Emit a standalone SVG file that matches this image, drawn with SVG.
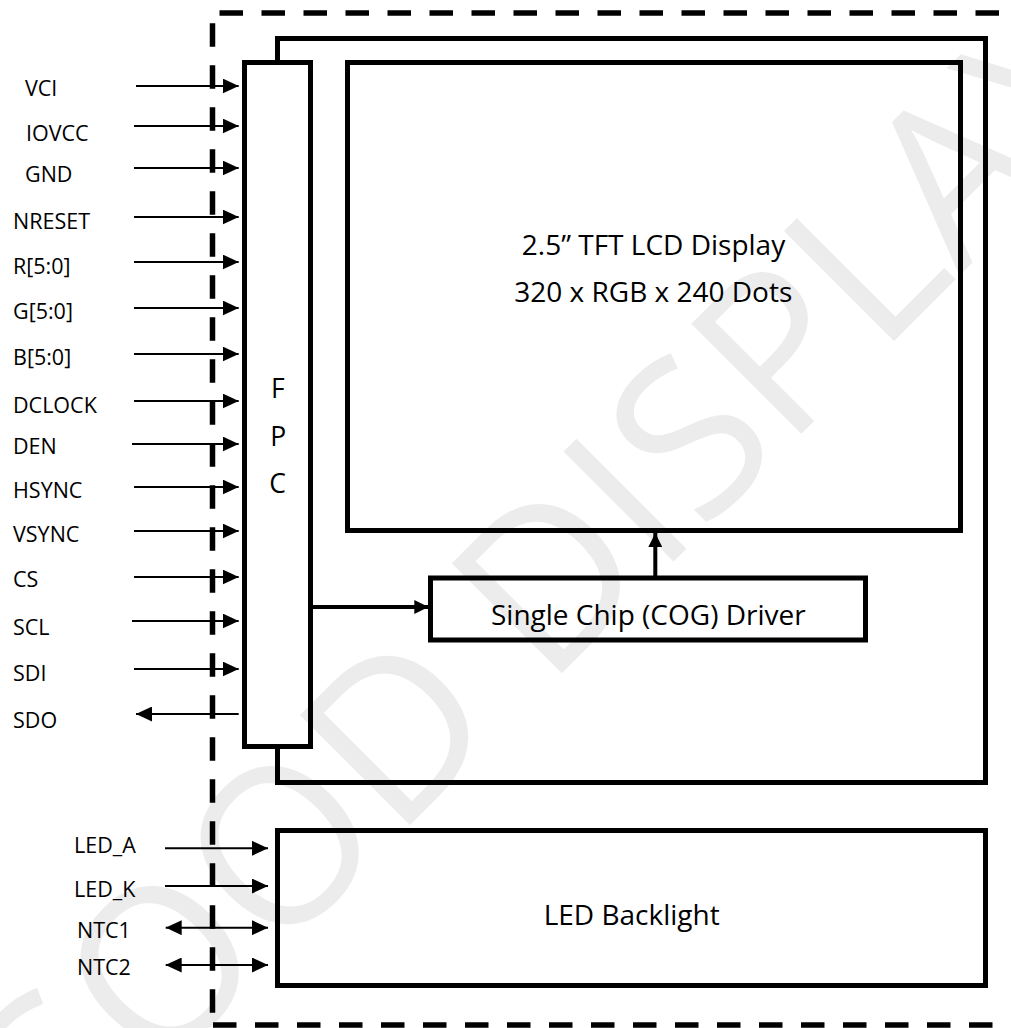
<svg xmlns="http://www.w3.org/2000/svg" width="1011" height="1028" viewBox="0 0 1011 1028">
<style>
.lbl{font-family:"Open Sans","Noto Sans","Liberation Sans",sans-serif;font-size:21.5px;fill:#000}
.big{font-family:"Open Sans","Noto Sans","Liberation Sans",sans-serif;font-size:28px;fill:#000;text-anchor:middle}
.box{fill:none;stroke:#000;stroke-width:5}
.dash{fill:none;stroke:#000;stroke-width:5.5;stroke-dasharray:23.5 18.5}
.sig{stroke:#000;stroke-width:2;fill:none}
.thick{stroke:#000;stroke-width:4;fill:none}
.wm{font-family:"Open Sans","Noto Sans",sans-serif;font-size:218px;fill:#ececec}
</style>
<defs>
<marker id="a" viewBox="0 0 16 15" refX="16" refY="7.5" markerWidth="16" markerHeight="15" markerUnits="userSpaceOnUse" orient="auto-start-reverse"><path d="M0,0 L16,7.5 L0,15 z" fill="#000"/></marker>
<marker id="b" viewBox="0 0 14 14" refX="14" refY="7" markerWidth="14" markerHeight="14" markerUnits="userSpaceOnUse" orient="auto-start-reverse"><path d="M0,0 L14,7 L0,14 z" fill="#000"/></marker>
</defs>
<rect width="1011" height="1028" fill="#fff"/>
<text class="wm" transform="translate(43,1192) rotate(-45)">GOOD DISPLAY</text>

<g id="boundary">
<line class="dash" x1="219.5" y1="13" x2="1000" y2="13"/>
<line class="dash" x1="212.5" y1="23.3" x2="212.5" y2="1016"/>
<line class="dash" x1="213" y1="1025" x2="1000" y2="1025"/>
</g>

<g id="module"><path class="box" d="M277.5,62.5 V38.5 H985.5 V782.5 H277.5 V746.5"/></g>
<g id="fpc"><rect class="box" x="244.5" y="62.5" width="66" height="684"/>
<text class="big" x="277.8" y="398.3" style="font-size:26.5px">F</text>
<text class="big" x="278.3" y="446" style="font-size:26.5px">P</text>
<text class="big" x="277.5" y="493.3" style="font-size:26.5px">C</text></g>
<g id="lcd"><rect class="box" x="347.5" y="62.5" width="613" height="468"/>
<text class="big" x="653.5" y="255">2.5” TFT LCD Display</text>
<text class="big" x="653.3" y="302">320 x RGB x 240 Dots</text></g>
<g id="driver"><rect class="box" x="430.5" y="578" width="435" height="62"/>
<text class="big" x="648.3" y="625">Single Chip (COG) Driver</text></g>
<g id="backlight"><rect class="box" x="277.5" y="830.5" width="708" height="155"/>
<text class="big" x="631.7" y="925">LED Backlight</text></g>

<g id="connectors">
<line class="thick" x1="313" y1="607" x2="428.3" y2="607" marker-end="url(#b)"/>
<line class="thick" x1="655.3" y1="576" x2="655.3" y2="533" marker-end="url(#b)"/>
<line class="sig" x1="136" y1="86" x2="238.7" y2="86" marker-end="url(#a)"/>
<line class="sig" x1="134" y1="126" x2="238.7" y2="126" marker-end="url(#a)"/>
<line class="sig" x1="134" y1="168" x2="238.7" y2="168" marker-end="url(#a)"/>
<line class="sig" x1="134" y1="217" x2="238.7" y2="217" marker-end="url(#a)"/>
<line class="sig" x1="134" y1="262" x2="238.7" y2="262" marker-end="url(#a)"/>
<line class="sig" x1="134" y1="308" x2="238.7" y2="308" marker-end="url(#a)"/>
<line class="sig" x1="134" y1="354" x2="238.7" y2="354" marker-end="url(#a)"/>
<line class="sig" x1="134" y1="401" x2="238.7" y2="401" marker-end="url(#a)"/>
<line class="sig" x1="132" y1="444" x2="238.7" y2="444" marker-end="url(#a)"/>
<line class="sig" x1="134" y1="487" x2="238.7" y2="487" marker-end="url(#a)"/>
<line class="sig" x1="134" y1="531" x2="238.7" y2="531" marker-end="url(#a)"/>
<line class="sig" x1="134" y1="577" x2="238.7" y2="577" marker-end="url(#a)"/>
<line class="sig" x1="132" y1="621" x2="238.7" y2="621" marker-end="url(#a)"/>
<line class="sig" x1="134" y1="669" x2="238.7" y2="669" marker-end="url(#a)"/>
<line class="sig" x1="238.7" y1="714" x2="136" y2="714" marker-end="url(#a)"/>
<line class="sig" x1="165" y1="848.3" x2="268" y2="848.3" marker-end="url(#a)"/>
<line class="sig" x1="165" y1="886" x2="268" y2="886" marker-end="url(#a)"/>
<line class="sig" x1="165.7" y1="927.7" x2="268" y2="927.7" marker-start="url(#a)" marker-end="url(#a)"/>
<line class="sig" x1="165.7" y1="965" x2="268" y2="965" marker-start="url(#a)" marker-end="url(#a)"/>
</g>

<g id="labels">
<text class="lbl" x="25" y="96">VCI</text>
<text class="lbl" x="26" y="140.7">IOVCC</text>
<text class="lbl" x="25" y="181.7">GND</text>
<text class="lbl" x="13" y="229">NRESET</text>
<text class="lbl" x="13" y="274">R[5:0]</text>
<text class="lbl" x="13" y="319">G[5:0]</text>
<text class="lbl" x="13" y="365">B[5:0]</text>
<text class="lbl" x="13" y="413">DCLOCK</text>
<text class="lbl" x="13" y="453.5">DEN</text>
<text class="lbl" x="13" y="497.5">HSYNC</text>
<text class="lbl" x="13" y="541.5">VSYNC</text>
<text class="lbl" x="13" y="587">CS</text>
<text class="lbl" x="13" y="635">SCL</text>
<text class="lbl" x="13" y="681">SDI</text>
<text class="lbl" x="13" y="728">SDO</text>
<text class="lbl" x="74" y="853">LED_A</text>
<text class="lbl" x="74" y="897">LED_K</text>
<text class="lbl" x="77" y="938">NTC1</text>
<text class="lbl" x="77" y="975">NTC2</text>
</g>
</svg>
